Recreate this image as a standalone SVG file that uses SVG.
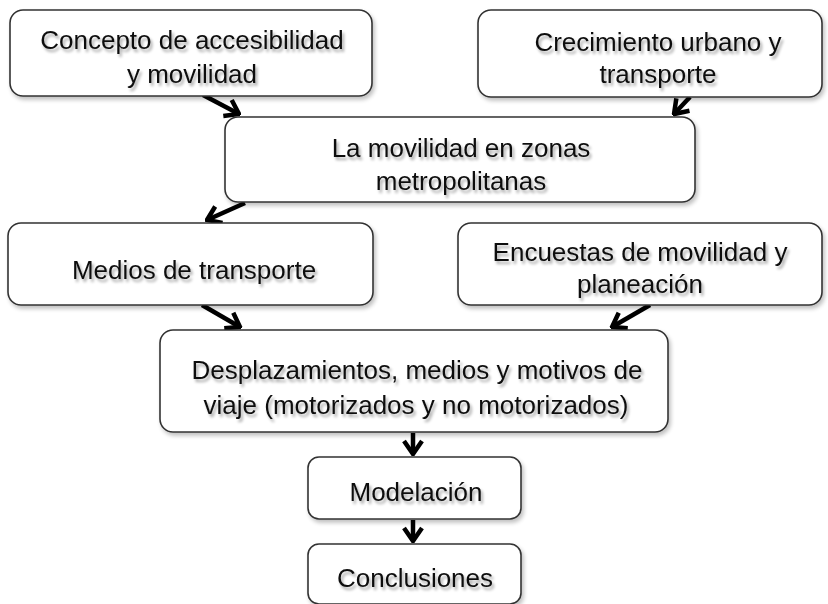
<svg xmlns="http://www.w3.org/2000/svg" width="828" height="604" viewBox="0 0 828 604">
  <defs>
    <filter id="tshadow" x="-10%" y="-30%" width="120%" height="160%">
      <feGaussianBlur in="SourceAlpha" stdDeviation="1.6"/>
      <feOffset dx="2" dy="3" result="b"/>
      <feComponentTransfer><feFuncA type="linear" slope="0.35"/></feComponentTransfer>
      <feMerge><feMergeNode/><feMergeNode in="SourceGraphic"/></feMerge>
    </filter>
    <filter id="bshadow" x="-5%" y="-10%" width="110%" height="125%">
      <feGaussianBlur in="SourceAlpha" stdDeviation="2"/>
      <feOffset dx="2" dy="3" result="b"/>
      <feComponentTransfer><feFuncA type="linear" slope="0.25"/></feComponentTransfer>
      <feMerge><feMergeNode/><feMergeNode in="SourceGraphic"/></feMerge>
    </filter>
    <marker id="arr" markerUnits="userSpaceOnUse" viewBox="-16 -12 18 24" refX="0" refY="0" markerWidth="18" markerHeight="24" orient="auto">
      <path d="M -13 -9 L 0 0 L -13 9" fill="none" stroke="#000" stroke-width="4.5" stroke-linejoin="miter"/>
    </marker>
    <style>
      .box { fill: #fff; stroke: #333; stroke-width: 1.6; filter: url(#bshadow); }
      .t { font-family: "Liberation Sans", Arial, Helvetica, sans-serif; font-size: 26px; fill: #111; text-anchor: middle; filter: url(#tshadow); }
      .c { stroke: #000; stroke-width: 4.5; fill: none; marker-end: url(#arr); }
    </style>
  </defs>
  <rect width="828" height="604" fill="#fff"/>

  <g id="connectors">
    <line class="c" x1="203" y1="95" x2="239" y2="114"/>
    <line class="c" x1="690" y1="97" x2="674" y2="114"/>
    <line class="c" x1="245" y1="203" x2="207" y2="220"/>
    <line class="c" x1="202" y1="305" x2="240" y2="327"/>
    <line class="c" x1="650" y1="305" x2="612" y2="327"/>
    <line class="c" x1="413" y1="433" x2="413" y2="454"/>
    <line class="c" x1="413" y1="520" x2="413" y2="541"/>
  </g>

  <g id="n1">
    <rect class="box" x="10" y="10" width="362" height="86" rx="13"/>
    <text class="t" x="192" y="49">Concepto de accesibilidad</text>
    <text class="t" x="192" y="83">y movilidad</text>
  </g>
  <g id="n2">
    <rect class="box" x="478" y="10" width="344" height="87" rx="13"/>
    <text class="t" x="658" y="51">Crecimiento urbano y</text>
    <text class="t" x="658" y="83">transporte</text>
  </g>
  <g id="n3">
    <rect class="box" x="225" y="117" width="470" height="85" rx="13"/>
    <text class="t" x="461" y="157">La movilidad en zonas</text>
    <text class="t" x="461" y="190">metropolitanas</text>
  </g>
  <g id="n4">
    <rect class="box" x="8" y="223" width="365" height="82" rx="13"/>
    <text class="t" x="194" y="279">Medios de transporte</text>
  </g>
  <g id="n5">
    <rect class="box" x="458" y="223" width="364" height="82" rx="13"/>
    <text class="t" x="640" y="261">Encuestas de movilidad y</text>
    <text class="t" x="640" y="293">planeación</text>
  </g>
  <g id="n6">
    <rect class="box" x="160" y="330" width="508" height="102" rx="13"/>
    <text class="t" x="417" y="379">Desplazamientos, medios y motivos de</text>
    <text class="t" x="416" y="414">viaje (motorizados y no motorizados)</text>
  </g>
  <g id="n7">
    <rect class="box" x="308" y="457" width="213" height="62" rx="11"/>
    <text class="t" x="416" y="501">Modelación</text>
  </g>
  <g id="n8">
    <rect class="box" x="308" y="544" width="213" height="60" rx="11"/>
    <text class="t" x="415" y="587">Conclusiones</text>
  </g>
</svg>
